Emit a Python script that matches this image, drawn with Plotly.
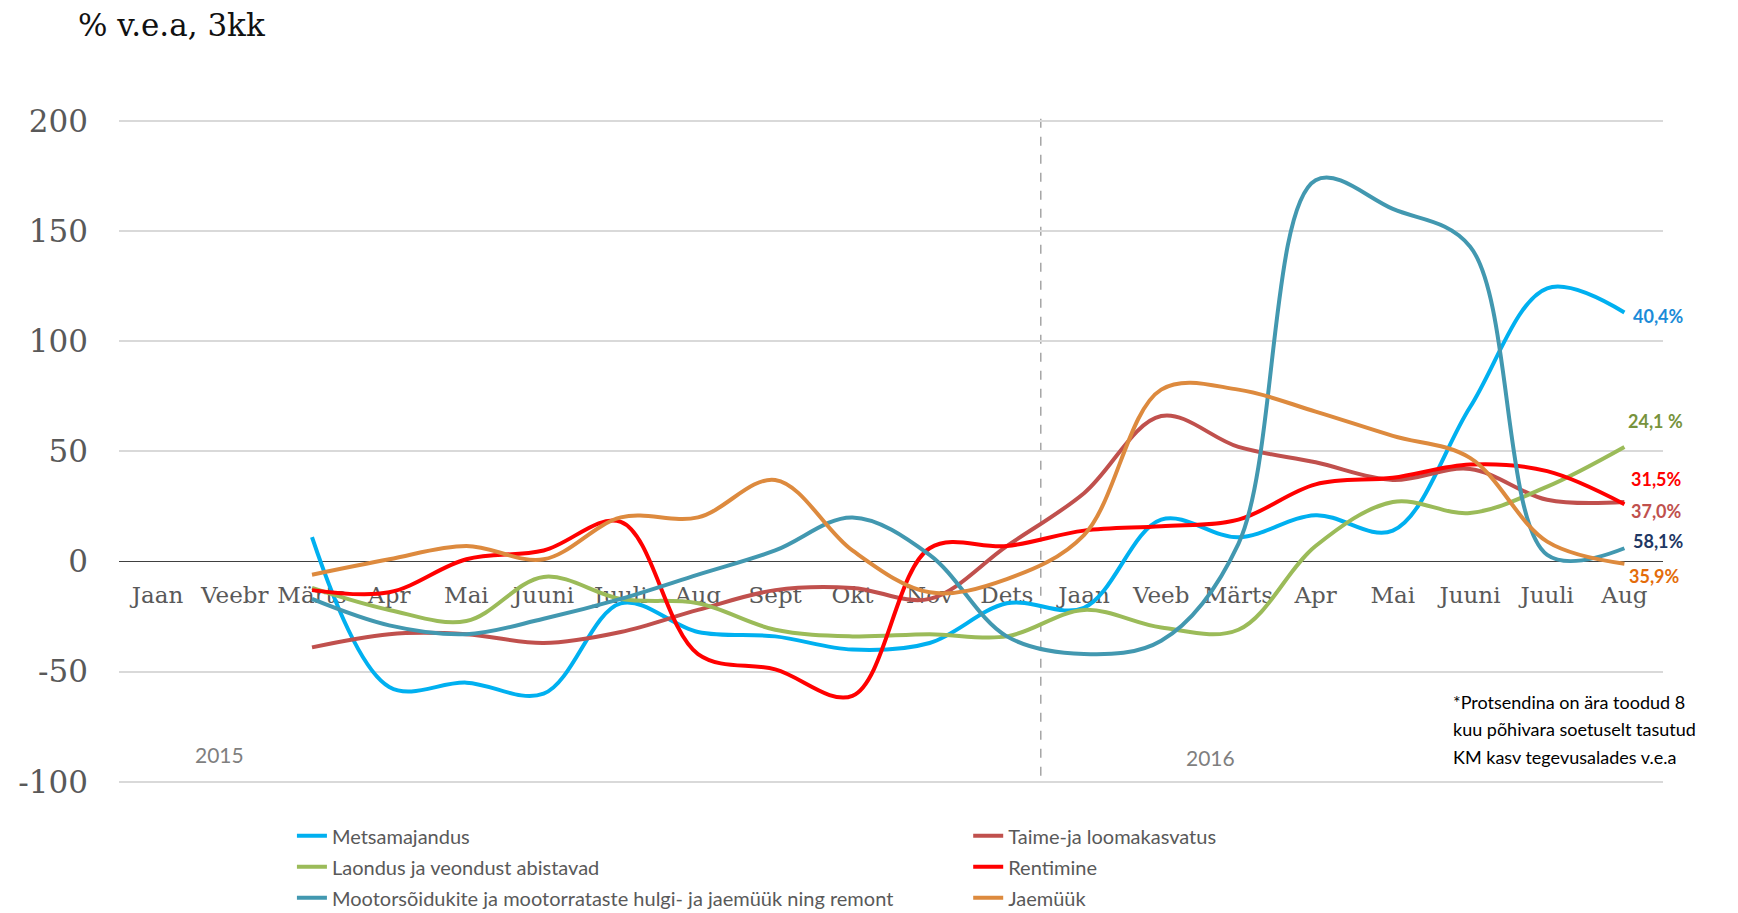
import plotly.graph_objects as go

# ---------------- data ----------------
months = ["Jaan", "Veebr", "Märts", "Apr", "Mai", "Juuni", "Juuli", "Aug", "Sept", "Okt",
          "Nov", "Dets", "Jaan", "Veeb", "Märts", "Apr", "Mai", "Juuni", "Juuli", "Aug"]

metsamajandus = [None, None, 11, -57, -55, -60, -19, -32, -34, -40, -37, -19, -21, 19, 11, 21, 14, 70, 124, 113]
taime = [None, None, -39, -33, -33, -37, -32, -22, -13, -12, -17, 7, 31, 66, 52, 45, 37, 42, 28, 27]
laondus = [None, None, -12, -22, -27, -7, -17, -19, -31, -34, -33, -34, -22, -30, -31, 7, 27, 22, 34, 52]
rentimine = [None, None, -13, -14, 1, 5, 18, -42, -49, -61, 6, 7, 14, 16, 19, 35, 38, 44, 41, 26]
mootor = [None, None, -17, -29, -33, -26, -17, -6, 5, 20, 3, -34, -42, -36, 8, 173, 160, 143, 3, 6]
jaemuuk = [None, None, -6, 1, 7, 1, 20, 20, 37, 5, -14, -8, 12, 78, 78, 68, 57, 47, 9, -1]

series_names = ["Metsamajandus", "Taime-ja loomakasvatus", "Laondus ja veondust abistavad",
                "Rentimine", "Mootorsõidukite ja mootorrataste hulgi- ja jaemüük ning remont", "Jaemüük"]
series_values = [metsamajandus, taime, laondus, rentimine, mootor, jaemuuk]

end_labels = ["40,4%", "24,1 %", "31,5%", "37,0%", "58,1%", "35,9%"]
y_ticks = [-100, -50, 0, 50, 100, 150, 200]
y_tick_text = ["-100", "-50", "0", "50", "100", "150", "200"]
year_labels = ["2015", "2016"]
footnote_lines = ["*Protsendina on ära toodud 8", "kuu põhivara soetuselt tasutud",
                  "KM kasv tegevusalades v.e.a"]
title_text = "% v.e.a, 3kk"

# ---------------- styles ----------------
colors = ["#00B0F0", "#C0504D", "#9BBB59", "#FF0000", "#4298B0", "#DD8A3E"]
legend_ids = ["legend", "legend2", "legend", "legend2", "legend", "legend2"]

x = list(range(len(months)))

fig = go.Figure()
for name, vals, col, leg in zip(series_names, series_values, colors, legend_ids):
    fig.add_trace(go.Scatter(
        x=x, y=vals, mode="lines", name=name,
        line=dict(color=col, width=4, shape="spline", smoothing=1),
        legend=leg, legendgroup=name, hoverinfo="skip"))

serif = "DejaVu Serif"
sans = "Lato"

y_min, y_max = -101, 204
zero_pos = (0 - y_min) / (y_max - y_min)

legend_common = dict(xanchor="left", yanchor="top", orientation="v", traceorder="grouped",
                     tracegroupgap=2, bgcolor="rgba(0,0,0,0)",
                     font=dict(family=sans, size=20, color="#595959"))

fig.update_layout(
    width=1738, height=913,
    margin=dict(l=119, r=75, t=112, b=129, autoexpand=False),
    plot_bgcolor="white", paper_bgcolor="white",
    title=dict(text=title_text, x=78 / 1738, xref="container", xanchor="left",
               y=1 - 25 / 913, yref="container", yanchor="middle",
               font=dict(family=serif, size=31, color="#111111")),
    xaxis=dict(range=[-0.5, 19.5], tickmode="array", tickvals=x, ticktext=months,
               anchor="free", position=zero_pos, showgrid=False, zeroline=False,
               showline=False, ticks="", ticklabelstandoff=18, layer="below traces",
               tickfont=dict(family=serif, size=23, color="#595959")),
    yaxis=dict(range=[y_min, y_max], tickmode="array", tickvals=y_ticks, ticktext=y_tick_text,
               showgrid=True, gridcolor="#D9D9D9", gridwidth=1.5,
               zeroline=True, zerolinecolor="#404040", zerolinewidth=1,
               showline=False, ticks="", ticklabelstandoff=30,
               tickfont=dict(family=serif, size=31, color="#595959")),
    legend=dict(x=0.112, y=-0.048, **legend_common),
    legend2=dict(x=0.55, y=-0.048, **legend_common),
    showlegend=True,
)

# dashed separator between years
fig.add_shape(type="line", xref="x", yref="y", x0=11.44, x1=11.44, y0=-97.3, y1=203.2,
              line=dict(color="#A6A6A6", width=1.5, dash="dash"), layer="below")

# end-of-line labels
label_colors = ["#1B8BD8", "#77933C", "#FF0000", "#C0504D", "#1F3864", "#E46C0A"]
label_pos = [(19.08, 111.4), (19.02, 63.6), (19.06, 37.3), (19.06, 22.7), (19.08, 9.5), (19.04, -6.4)]
for txt, col, (lx, ly) in zip(end_labels, label_colors, label_pos):
    fig.add_annotation(x=lx, y=ly, xref="x", yref="y", text=f"<b>{txt}</b>", showarrow=False,
                       xanchor="left", yanchor="middle",
                       font=dict(family=sans, size=18, color=col))

# year labels
for txt, (lx, ly) in zip(year_labels, [(0.8, -87.7), (13.64, -89.0)]):
    fig.add_annotation(x=lx, y=ly, xref="x", yref="y", text=txt, showarrow=False,
                       xanchor="center", yanchor="middle",
                       font=dict(family=sans, size=21, color="#7F7F7F"))

# footnote
for i, line in enumerate(footnote_lines):
    fig.add_annotation(x=16.76, y=-63.6 - i * 12.5, xref="x", yref="y", text=line, showarrow=False,
                       xanchor="left", yanchor="middle",
                       font=dict(family=sans, size=18, color="#000000"))

fig.write_html("out.html", post_script="document.body.style.margin='0';",
               config={"displayModeBar": False})
